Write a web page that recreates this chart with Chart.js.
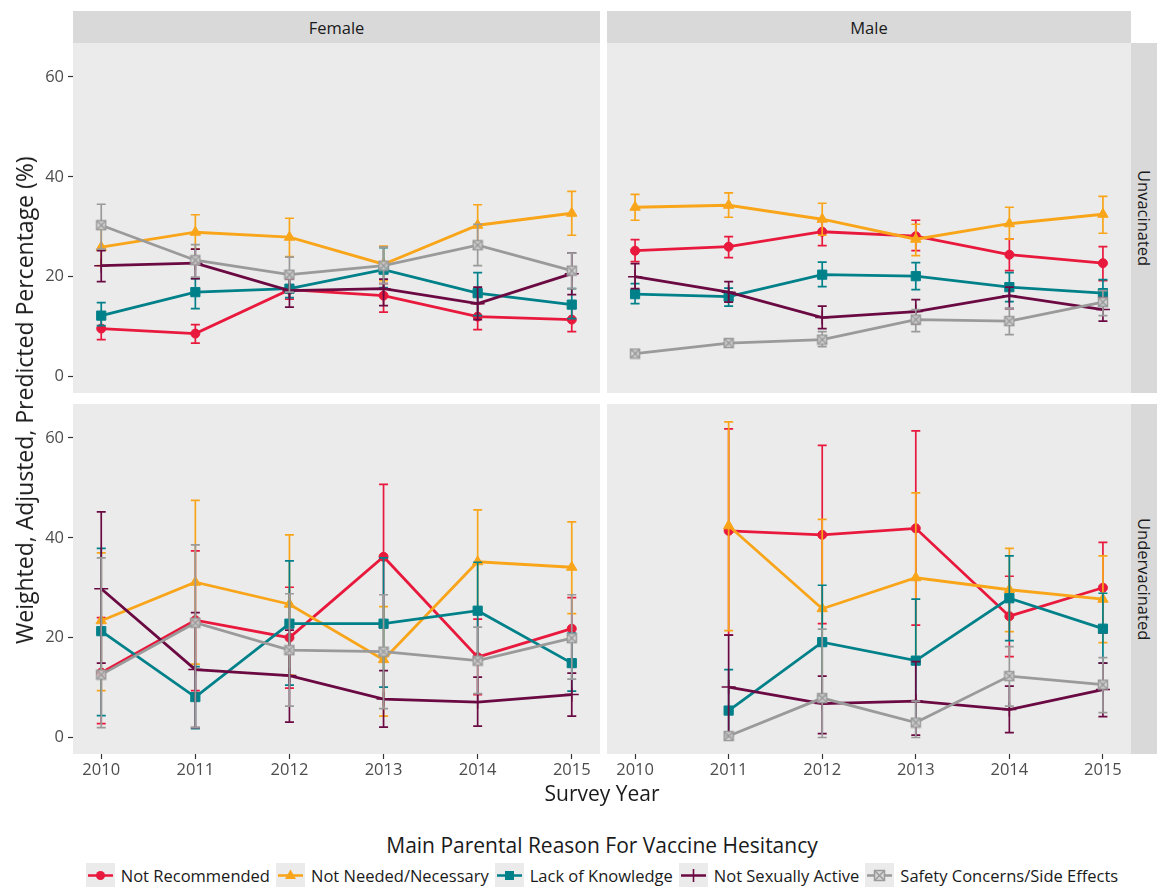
<!DOCTYPE html>
<html lang="en">
<head>
<meta charset="UTF-8">
<title>Main Parental Reason For Vaccine Hesitancy</title>
<script src="https://cdn.jsdelivr.net/npm/chart.js"></script>
<style>
    body { margin: 0; background: #fff; font-family: "Open Sans", sans-serif; }
    #wrap { position: relative; width: 1157px; height: 887px; overflow: hidden; }
    canvas { position: absolute; }
    .strip { position: absolute; background: #D9D9D9; color: #1A1A1A; font-size: 16.5px;
             display: flex; align-items: center; justify-content: center; }
    .side { writing-mode: vertical-rl; }
    .title { position: absolute; color: #1A1A1A; font-size: 21px; text-align: center; white-space: nowrap; }
    #ytitle { left: 8px; top: 100px; height: 600px; writing-mode: vertical-rl; transform: rotate(180deg);
              display: flex; align-items: center; justify-content: center; font-size: 23px; }
    #legend { position: absolute; left: 0; width: 1210px; top: 863px; height: 25px;
              display: flex; justify-content: center; align-items: center; font-size: 16.5px; color: #1A1A1A; }
    .item { display: flex; align-items: center; margin-right: 6px; }
    .item svg { margin-right: 6px; }
</style>
</head>
<body>
<div id="wrap">
    <div class="strip" style="left:73px;top:11px;width:527px;height:32px">Female</div>
    <div class="strip" style="left:607px;top:11px;width:524px;height:32px">Male</div>
    <div class="strip side" style="left:1131px;top:43px;width:26px;height:350px">Unvacinated</div>
    <div class="strip side" style="left:1131px;top:404px;width:26px;height:350px">Undervacinated</div>

    <canvas id="femUnvac" width="600" height="350" style="left:0;top:43px"></canvas>
    <canvas id="maleUnvac" width="524" height="350" style="left:607px;top:43px"></canvas>
    <canvas id="femUnder" width="600" height="382" style="left:0;top:404px"></canvas>
    <canvas id="maleUnder" width="524" height="382" style="left:607px;top:404px"></canvas>

    <div class="title" id="ytitle">Weighted, Adjusted, Predicted Percentage (%)</div>
    <div class="title" style="left:73px;width:1058px;top:779px">Survey Year</div>
    <div class="title" style="left:73px;width:1058px;top:831px">Main Parental Reason For Vaccine Hesitancy</div>
    <div id="legend"></div>
</div>

<script>
    const years = [2010, 2011, 2012, 2013, 2014, 2015];
    const reasons = ['Not Recommended', 'Not Needed/Necessary', 'Lack of Knowledge', 'Not Sexually Active', 'Safety Concerns/Side Effects'];
    const colors = ['#E8193C', '#F9A51A', '#00818A', '#6B0A42', '#9A9A9A'];

    // rows follow the order of reasons
    const femUnvacPct = [
        [9.6, 8.6, 17.4, 16.2, 12.0, 11.4],
        [25.9, 28.9, 27.9, 22.5, 30.3, 32.7],
        [12.2, 16.9, 17.6, 21.4, 16.7, 14.4],
        [22.2, 22.7, 17.2, 17.6, 14.6, 20.6],
        [30.3, 23.3, 20.4, 22.2, 26.3, 21.2]
    ];
    const femUnvacLow = [
        [7.4, 6.7, 15.5, 12.9, 9.4, 9.0],
        [22.2, 25.5, 24.0, 19.2, 26.2, 28.3],
        [10.2, 13.6, 15.8, 17.8, 12.2, 11.6],
        [19.0, 19.6, 13.9, 14.2, 11.4, 16.4],
        [25.5, 19.9, 16.9, 18.6, 22.2, 17.6]
    ];
    const femUnvacHigh = [
        [11.7, 10.4, 19.5, 18.6, 14.6, 13.8],
        [29.5, 32.4, 31.7, 26.1, 34.4, 37.1],
        [14.8, 19.6, 19.8, 25.8, 20.8, 17.6],
        [25.2, 25.5, 20.5, 19.5, 17.9, 24.7],
        [34.5, 26.4, 23.9, 25.9, 30.5, 24.7]
    ];

    const maleUnvacPct = [
        [25.2, 26.0, 29.0, 28.1, 24.4, 22.7],
        [33.9, 34.3, 31.5, 27.5, 30.6, 32.5],
        [16.5, 16.0, 20.4, 20.1, 17.9, 16.7],
        [20.0, 16.9, 11.8, 13.0, 16.2, 13.4],
        [4.6, 6.7, 7.4, 11.4, 11.1, 14.9]
    ];
    const maleUnvacLow = [
        [23.0, 23.8, 26.2, 25.2, 21.2, 19.2],
        [31.3, 31.9, 28.3, 24.2, 27.5, 28.7],
        [14.6, 14.1, 18.0, 17.4, 15.0, 14.2],
        [17.6, 14.9, 9.6, 10.6, 13.6, 11.1],
        [4.0, 5.9, 6.0, 9.0, 8.4, 12.2]
    ];
    const maleUnvacHigh = [
        [27.4, 28.0, 31.2, 31.3, 27.5, 26.0],
        [36.5, 36.8, 34.7, 30.5, 33.9, 36.1],
        [18.6, 17.7, 22.9, 22.8, 20.8, 19.4],
        [22.6, 19.0, 14.1, 15.4, 17.9, 15.8],
        [5.2, 7.5, 9.0, 13.4, 13.7, 17.2]
    ];

    const femUnderPct = [
        [13.0, 23.5, 20.0, 36.2, 16.1, 21.8],
        [23.4, 31.1, 26.7, 15.6, 35.2, 34.1],
        [21.3, 8.1, 22.8, 22.8, 25.4, 14.9],
        [29.8, 13.6, 12.4, 7.7, 7.1, 8.6],
        [12.6, 23.0, 17.5, 17.2, 15.4, 19.9]
    ];
    const femUnderLow = [
        [2.8, 9.4, 9.9, 22.0, 8.6, 14.8],
        [9.4, 14.7, 12.5, 4.3, 24.8, 24.8],
        [4.4, 1.8, 10.5, 10.1, 16.0, 9.3],
        [14.9, 2.0, 3.1, 2.1, 2.3, 4.3],
        [2.0, 2.0, 6.3, 5.8, 8.8, 11.7]
    ];
    const femUnderHigh = [
        [24.0, 37.4, 30.1, 50.7, 23.7, 28.0],
        [37.0, 47.5, 40.6, 26.2, 45.6, 43.2],
        [37.9, 14.2, 35.4, 36.0, 35.1, 20.9],
        [45.2, 25.0, 21.5, 13.4, 12.1, 12.9],
        [36.0, 38.6, 28.8, 28.6, 22.1, 28.6]
    ];

    const maleUnderPct = [
        [null, 41.4, 40.6, 41.9, 24.3, 30.0],
        [null, 42.4, 25.8, 32.0, 29.6, 27.7],
        [null, 5.4, 19.1, 15.4, 27.9, 21.8],
        [null, 10.1, 6.8, 7.3, 5.6, 9.6],
        [null, 0.3, 7.9, 3.0, 12.3, 10.6]
    ];
    const maleUnderLow = [
        [null, 20.5, 22.8, 22.5, 16.2, 20.9],
        [null, 21.4, 8.3, 15.2, 21.2, 19.0],
        [null, 0.5, 8.3, 3.5, 19.4, 14.9],
        [null, 0.3, 0.8, 0.5, 1.0, 4.2],
        [null, 0.0, 0.0, 0.0, 6.3, 5.0]
    ];
    const maleUnderHigh = [
        [null, 61.8, 58.5, 61.4, 32.3, 39.1],
        [null, 63.2, 43.7, 49.0, 37.9, 36.4],
        [null, 13.6, 30.5, 27.7, 36.4, 28.9],
        [null, 20.5, 12.3, 15.2, 10.3, 14.9],
        [null, 0.8, 21.7, 7.3, 18.2, 16.0]
    ];

    const yTicks = [0, 20, 40, 60];

    // square with an x inside, like ggplot shape 7
    function boxCross(color) {
        const c = document.createElement('canvas');
        c.width = 12; c.height = 12;
        const g = c.getContext('2d');
        g.fillStyle = 'rgba(215,215,215,0.8)';
        g.fillRect(1, 1, 10, 10);
        g.strokeStyle = color;
        g.lineWidth = 1.5;
        g.strokeRect(1.5, 1.5, 9, 9);
        g.beginPath();
        g.moveTo(2, 2); g.lineTo(10, 10);
        g.moveTo(10, 2); g.lineTo(2, 10);
        g.stroke();
        return c;
    }
    const pointStyles = ['circle', 'triangle', 'rect', 'cross', boxCross(colors[4])];
    const pointRadii = [4.5, 6, 6.5, 7, 6];
    const pointBorders = [1, 1, 1, 1.5, 1];

    const panelBg = {
        id: 'panelBg',
        beforeDraw(chart) {
            const a = chart.chartArea;
            chart.ctx.save();
            chart.ctx.fillStyle = '#EBEBEB';
            chart.ctx.fillRect(a.left, a.top, a.right - a.left, a.bottom - a.top);
            chart.ctx.restore();
        }
    };

    // error bars are drawn just before each series, so each series stacks like one trace
    const errorBars = {
        id: 'errorBars',
        beforeDatasetDraw(chart, args) {
            const ds = chart.data.datasets[args.index];
            const yScale = chart.scales.y;
            const ctx = chart.ctx;
            const a = chart.chartArea;
            ctx.save();
            ctx.beginPath();
            ctx.rect(a.left, a.top, a.right - a.left, a.bottom - a.top);
            ctx.clip();
            ctx.strokeStyle = ds.borderColor;
            ctx.lineWidth = 1.7;
            args.meta.data.forEach((pt, i) => {
                const lo = ds.errLow[i], hi = ds.errHigh[i];
                if (lo == null || hi == null) return;
                const x = pt.x;
                const y1 = yScale.getPixelForValue(lo);
                const y2 = yScale.getPixelForValue(hi);
                ctx.beginPath();
                ctx.moveTo(x, y1); ctx.lineTo(x, y2);
                ctx.moveTo(x - 4.5, y1); ctx.lineTo(x + 4.5, y1);
                ctx.moveTo(x - 4.5, y2); ctx.lineTo(x + 4.5, y2);
                ctx.stroke();
            });
            ctx.restore();
        }
    };

    const tickFont = { family: 'Open Sans', size: 16.5 };

    function makePanel(id, pct, low, high, showX, showY) {
        new Chart(document.getElementById(id), {
            type: 'line',
            data: {
                datasets: reasons.map((r, s) => ({
                    label: r,
                    data: years.map((yr, i) => ({ x: yr, y: pct[s][i] })),
                    errLow: low[s],
                    errHigh: high[s],
                    borderColor: colors[s],
                    backgroundColor: colors[s],
                    borderWidth: 2.8,
                    pointStyle: pointStyles[s],
                    pointRadius: pointRadii[s],
                    pointBorderWidth: pointBorders[s],
                    order: 4 - s,
                    spanGaps: false
                }))
            },
            options: {
                responsive: false,
                animation: false,
                layout: { padding: 0, autoPadding: false },
                plugins: { legend: { display: false }, tooltip: { enabled: false } },
                scales: {
                    x: {
                        type: 'linear',
                        min: 2009.7,
                        max: 2015.3,
                        display: showX,
                        afterBuildTicks: scale => { scale.ticks = years.map(v => ({ value: v })); },
                        afterFit: scale => {
                            if (!showX) return;
                            scale.height = 32; scale.paddingLeft = 0; scale.paddingRight = 0;
                        },
                        ticks: { font: tickFont, color: '#4D4D4D', padding: 1, maxRotation: 0, callback: v => String(v) },
                        grid: { drawOnChartArea: false, drawTicks: true, tickLength: 5, tickColor: '#333', tickWidth: 1.2 },
                        border: { display: false }
                    },
                    y: {
                        min: -3.3,
                        max: 66.8,
                        display: showY,
                        afterBuildTicks: scale => { scale.ticks = yTicks.map(v => ({ value: v })); },
                        afterFit: scale => {
                            if (!showY) return;
                            scale.width = 73; scale.paddingTop = 0; scale.paddingBottom = 0;
                        },
                        ticks: { font: tickFont, color: '#4D4D4D', padding: 4 },
                        grid: { drawOnChartArea: false, drawTicks: true, tickLength: 5, tickColor: '#333', tickWidth: 1.2 },
                        border: { display: false }
                    }
                }
            },
            plugins: [panelBg, errorBars]
        });
    }

    makePanel('femUnvac', femUnvacPct, femUnvacLow, femUnvacHigh, false, true);
    makePanel('maleUnvac', maleUnvacPct, maleUnvacLow, maleUnvacHigh, false, false);
    makePanel('femUnder', femUnderPct, femUnderLow, femUnderHigh, true, true);
    makePanel('maleUnder', maleUnderPct, maleUnderLow, maleUnderHigh, true, false);

    // legend keys
    const keyMarks = [
        c => `<circle cx="14.5" cy="12.5" r="4.5" fill="${c}"/>`,
        c => `<path d="M14.5 6.5 L20 16 L9 16 Z" fill="${c}"/>`,
        c => `<rect x="10" y="8" width="9" height="9" fill="${c}"/>`,
        c => `<path d="M14.5 6 V19" stroke="${c}" stroke-width="1.6"/>`,
        c => `<rect x="9.5" y="7.5" width="10" height="10" fill="#d7d7d7" stroke="${c}" stroke-width="1.5"/>` +
             `<path d="M10 8 L19 17 M19 8 L10 17" stroke="${c}" stroke-width="1.5"/>`
    ];
    const legend = document.getElementById('legend');
    reasons.forEach((r, s) => {
        const item = document.createElement('div');
        item.className = 'item';
        item.innerHTML = `<svg width="29" height="25"><rect width="29" height="25" fill="#EBEBEB"/>` +
            `<path d="M2 12.5 H27" stroke="${colors[s]}" stroke-width="2.5"/>` + keyMarks[s](colors[s]) +
            `</svg><span>${r}</span>`;
        legend.appendChild(item);
    });
</script>
</body>
</html>
